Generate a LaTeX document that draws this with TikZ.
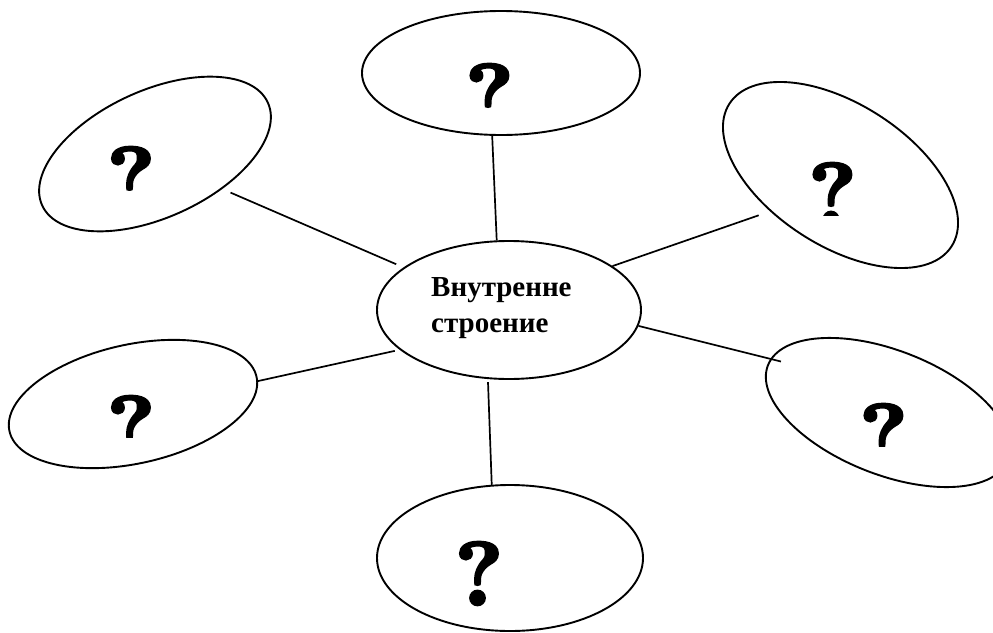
\documentclass[tikz,border=0pt]{standalone}
\usepackage{fontspec}
\setmainfont{Liberation Serif}
\newfontfamily\markfont{lmroman10-bold.otf}[FakeBold=3]
\usetikzlibrary{shapes.geometric}

\begin{document}
\begin{tikzpicture}[x=1pt, y=-1pt,
    bubble/.style={draw, ellipse, line width=1.9pt, inner sep=0pt},
    qmark/.style={anchor=base, inner sep=0pt, font=\markfont\fontsize{90}{100}\selectfont},
    link/.style={line width=1.7pt}]
    \clip (0,0) rectangle (993,632);

    % centre
    \node[bubble, minimum width=264pt, minimum height=138pt] (core) at (509,310) {};
    \node[anchor=west, inner sep=0pt, align=left, font=\bfseries\fontsize{29}{36}\selectfont]
        (corelabel) at (431,308) {Внутренне\\строение};

    % outer bubbles
    \node[bubble, minimum width=278pt, minimum height=124pt] (q1) at (501,73) {};
    \node[bubble, minimum width=248pt, minimum height=127pt, rotate=24.5] (q2) at (155,154) {};
    \node[bubble, minimum width=264pt, minimum height=142pt, rotate=-32.7] (q3) at (840.5,175) {};
    \node[bubble, minimum width=258pt, minimum height=124pt, rotate=-21.5] (q4) at (888,412.5) {};
    \node[bubble, minimum width=253pt, minimum height=119pt, rotate=12.4] (q5) at (133,404) {};
    \node[bubble, minimum width=266pt, minimum height=146pt] (q6) at (510,558) {};

    % question marks, cut off by their boxes
    \foreach \x/\y/\cut [count=\i] in {489.5/127/108, 131/210/190, 832.5/226/215,
                                       883.5/467/446, 131/459/437, 479/605/632}{
        \begin{scope}
            \clip (0,0) rectangle (993,\cut);
            \node[qmark] (mark\i) at (\x,\y) {?};
        \end{scope}
    }

    % links
    \draw[link] (core.100) -- (q1.262);
    \draw[link, shorten <=8pt, shorten >=9pt] (core.158) -- (q2.308);
    \draw[link, shorten >=12pt] (core.23) -- (q3.240);
    \draw[link, shorten >=-11pt] (core.353) -- (q4.177);
    \draw[link, shorten <=5pt] (core.200) -- (q5.358);
    \draw[link, shorten <=3pt] (core.253) -- (q6.104);
\end{tikzpicture}
\end{document}
